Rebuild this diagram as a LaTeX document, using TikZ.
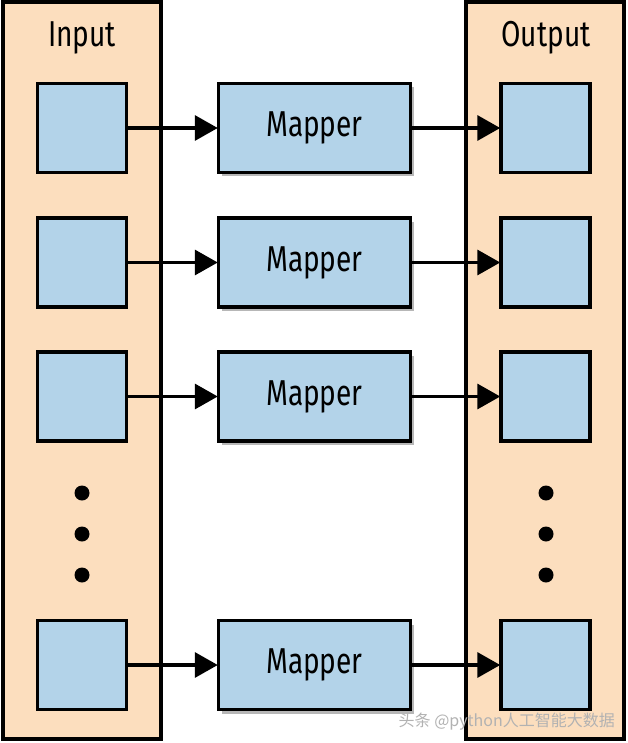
\documentclass[tikz,border=0pt]{standalone}
\usepackage{fontspec}
\setmainfont[FakeStretch=0.78]{Fira Sans}
\newfontfamily\cjk{Noto Sans CJK SC}
\usetikzlibrary{arrows.meta,shadows}
\definecolor{peach}{RGB}{252,222,190}
\definecolor{lblue}{RGB}{179,211,233}
\tikzset{
  column/.style={draw=black, fill=peach, line width=3.5pt, minimum width=158pt, minimum height=737pt, inner sep=0pt},
  sqbox/.style={draw=black, fill=lblue, line width=3.5pt, minimum width=89pt, minimum height=89pt, inner sep=0pt},
  mapbox/.style={draw=black, fill=lblue, line width=3.5pt, minimum width=192pt, minimum height=89pt, inner sep=0pt,
    font=\fontsize{36}{38}\selectfont,
    drop shadow={shadow xshift=3pt, shadow yshift=-4pt, opacity=0.4, fill=black!70}},
  lbl/.style={font=\fontsize{36}{38}\selectfont, inner sep=0pt},
  dotc/.style={circle, fill=black, minimum width=15pt, minimum height=15pt, inner sep=0pt},
  conn/.style={line width=3.5pt, -{Triangle[length=23pt,width=25pt]}, shorten >=-1pt},
}
\begin{document}
\begin{tikzpicture}[x=1pt,y=-1pt]
\useasboundingbox (0,0) rectangle (628,743);
\fill[white] (0,0) rectangle (628,743);
\node[column] (incol) at (82,370.5) {};
\node[column] (outcol) at (545,370.5) {};
\node[lbl] (inlbl) at (82,38) {Input};
\node[lbl] (outlbl) at (546,38) {Output};
% rows
\foreach \n/\y in {1/128,2/262.5,3/396.5,4/665}{
  \node[sqbox] (in\n) at (82,\y) {};
  \node[mapbox] (map\n) at (314.5,\y) {Mapper};
  \node[sqbox] (out\n) at (545.5,\y) {};
  \draw[conn] (in\n.east) -- (map\n.west);
  \draw[conn] (map\n.east) -- (out\n.west);
}
\foreach \n/\y in {1/493,2/534,3/575}{
  \node[dotc] (ldot\n) at (82,\y) {};
  \node[dotc] (rdot\n) at (546,\y) {};
}
\node[font=\cjk\fontsize{16}{17}\selectfont, text=gray!60, inner sep=0pt, anchor=base east] (wm) at (615,726) {头条 @python人工智能大数据};
\end{tikzpicture}
\end{document}
